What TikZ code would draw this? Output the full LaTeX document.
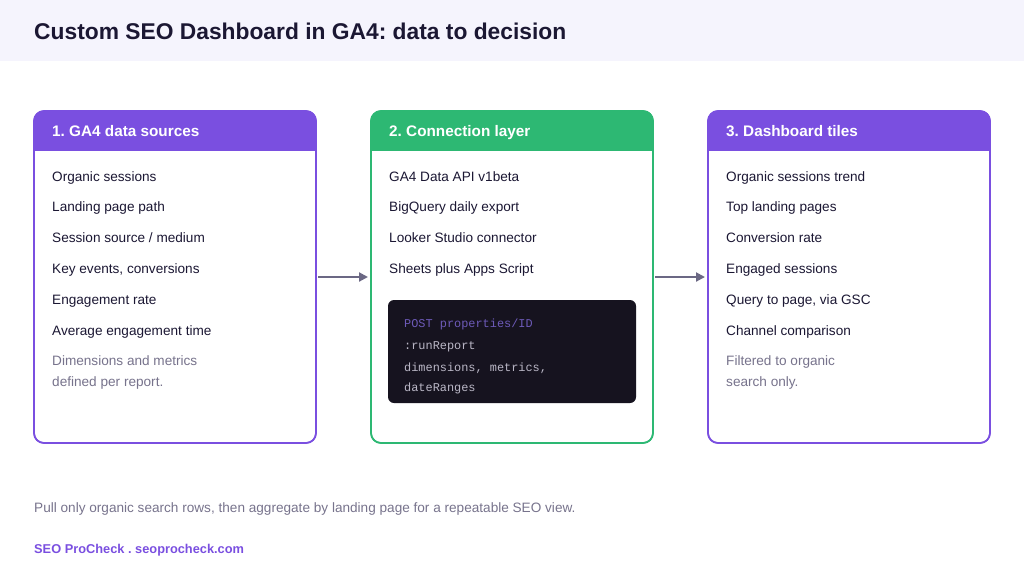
\documentclass[tikz,border=0pt]{standalone}
\usepackage{fontspec}
\setmainfont{Liberation Sans}
\setmonofont{Liberation Mono}
\usepackage{xcolor}
\usetikzlibrary{arrows.meta,calc}
\definecolor{seonavy}{HTML}{1B1733}
\definecolor{seopurple}{HTML}{7A4FE0}
\definecolor{seogreen}{HTML}{2DB873}
\definecolor{seogrey}{HTML}{77738C}
\definecolor{headfill}{HTML}{F5F4FD}
\definecolor{codefill}{HTML}{16131F}
\definecolor{codekey}{HTML}{6D5AB8}
\definecolor{codetext}{HTML}{BAB7C6}
\definecolor{arrowgrey}{HTML}{6B6884}
\frenchspacing

\begin{document}
\begin{tikzpicture}[x=1pt,y=-1pt,
  text=seonavy,
  stagebox/.style={draw=#1,fill=white,line width=1.6pt,rounded corners=10pt,minimum width=282pt,minimum height=332pt,anchor=north west,outer sep=0pt},
  stagetitle/.style={anchor=base west,text=white,inner sep=0pt,font=\bfseries\fontsize{15.3}{18}\selectfont},
  item/.style={anchor=base west,inner sep=0pt,font=\fontsize{13.6}{16}\selectfont},
  note/.style={item,text=seogrey},
  codeline/.style={anchor=base west,inner sep=0pt,text=codetext,font=\ttfamily\fontsize{11.9}{14}\selectfont},
  connector/.style={-{Triangle[length=9pt,width=9pt]},draw=arrowgrey,line width=2pt}
]
\path[use as bounding box] (0,0) rectangle (1024,576);

% Header band
\fill[headfill] (0,0) rectangle (1024,61);
\node[anchor=base west,inner sep=0pt,font=\bfseries\fontsize{22.8}{26}\selectfont] (title) at (34,39) {Custom SEO Dashboard in GA4: data to decision};

% Stage boxes
\node[stagebox=seopurple] (sources) at (34,111) {};
\node[stagebox=seogreen] (connection) at (371,111) {};
\node[stagebox=seopurple] (tiles) at (708,111) {};

% Coloured title strips, clipped to the rounded outline
\begin{scope}
\clip[rounded corners=10pt] (sources.north west) rectangle (sources.south east);
\fill[seopurple] (sources.north west) rectangle ($(sources.north east)+(0,40)$);
\end{scope}
\begin{scope}
\clip[rounded corners=10pt] (connection.north west) rectangle (connection.south east);
\fill[seogreen] (connection.north west) rectangle ($(connection.north east)+(0,40)$);
\end{scope}
\begin{scope}
\clip[rounded corners=10pt] (tiles.north west) rectangle (tiles.south east);
\fill[seopurple] (tiles.north west) rectangle ($(tiles.north east)+(0,40)$);
\end{scope}
\draw[seopurple,line width=1.6pt,rounded corners=10pt] (sources.north west) rectangle (sources.south east);
\draw[seogreen,line width=1.6pt,rounded corners=10pt] (connection.north west) rectangle (connection.south east);
\draw[seopurple,line width=1.6pt,rounded corners=10pt] (tiles.north west) rectangle (tiles.south east);

\node[stagetitle] (sourcestitle) at (52,136) {1. GA4 data sources};
\node[stagetitle] (connectiontitle) at (389,136) {2. Connection layer};
\node[stagetitle] (tilestitle) at (726,136) {3. Dashboard tiles};

% Stage contents, one line every 30.8px
\foreach \txt [count=\i] in {Organic sessions,Landing page path,Session source / medium,{Key events, conversions},Engagement rate,Average engagement time}
  \node[item] (source\i) at (52,{181+30.8*(\i-1)}) {\txt};
\node[note] (sourcenote1) at (52,365) {Dimensions and metrics};
\node[note] (sourcenote2) at (52,386) {defined per report.};

\foreach \txt [count=\i] in {GA4 Data API v1beta,BigQuery daily export,Looker Studio connector,Sheets plus Apps Script}
  \node[item] (link\i) at (389,{181+30.8*(\i-1)}) {\txt};

% Request snippet
\fill[codefill,rounded corners=6pt] (388,300) rectangle (636,403);
\node[codeline,text=codekey] (code1) at (404,327) {POST properties/ID};
\node[codeline] (code2) at (404,349) {:runReport};
\node[codeline] (code3) at (404,371) {dimensions, metrics,};
\node[codeline] (code4) at (404,391) {dateRanges};

\foreach \txt [count=\i] in {Organic sessions trend,Top landing pages,Conversion rate,Engaged sessions,{Query to page, via GSC},Channel comparison}
  \node[item] (tile\i) at (726,{181+30.8*(\i-1)}) {\txt};
\node[note] (tilenote1) at (726,365) {Filtered to organic};
\node[note] (tilenote2) at (726,386) {search only.};

% Flow between stages
\draw[connector] ([xshift=2pt]sources.east) -- ([xshift=-3pt]connection.west);
\draw[connector] ([xshift=2pt]connection.east) -- ([xshift=-3pt]tiles.west);

% Footer
\node[anchor=base west,inner sep=0pt,text=seogrey,font=\fontsize{13.6}{16}\selectfont] (summary) at (34,512) {Pull only organic search rows, then aggregate by landing page for a repeatable SEO view.};
\node[anchor=base west,inner sep=0pt,text=seopurple,font=\bfseries\fontsize{12.8}{15}\selectfont] (brand) at (34,553) {SEO ProCheck . seoprocheck.com};

\end{tikzpicture}
\end{document}
